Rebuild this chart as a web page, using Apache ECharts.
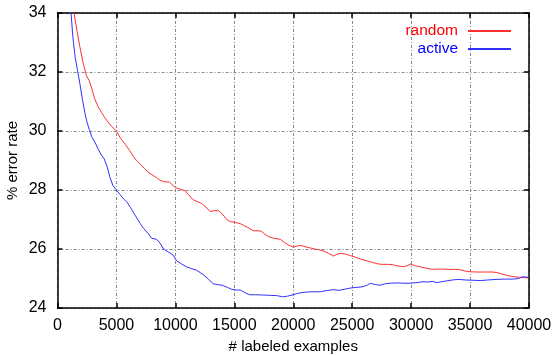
<!DOCTYPE html>
<html>
<head>
<meta charset="utf-8">
<script src="https://cdn.jsdelivr.net/npm/echarts@6/dist/echarts.min.js"></script>
<style>html,body{margin:0;padding:0;background:#fff}#c{width:552px;height:355px}</style>
</head>
<body>
<div id="c"></div>
<script>
const seriesNames = ["random", "active"];
const xTicks = [0, 5000, 10000, 15000, 20000, 25000, 30000, 35000, 40000];
const yTicks = [24, 26, 28, 30, 32, 34];
const randomX = [1400,1650,1900,2150,2450,2700,2900,3150,3450,3750,4000,4300,4600,5000,5350,5750,6100,6450,6700,7000,7400,7700,8000,8400,8700,9000,9500,9800,10000,10400,10800,11100,11500,11900,12200,12600,12950,13300,13650,14000,14350,14650,15100,15500,15800,16200,16600,17000,17300,17600,17900,18400,18900,19250,19600,20000,20300,20600,21000,21400,21800,22200,22600,23000,23400,23700,24000,24400,24800,25300,25700,26000,26400,26700,27100,27500,28000,28400,28800,29300,29600,29950,30300,30800,31300,31800,32500,33300,34000,34500,34900,35500,36400,36900,37300,37700,38200,38700,39200,39600,40000];
const randomY = [34.0,33.4,32.85,32.35,31.88,31.7,31.45,31.1,30.82,30.62,30.46,30.3,30.15,30.0,29.75,29.55,29.35,29.13,29.0,28.88,28.72,28.6,28.52,28.42,28.33,28.28,28.27,28.15,28.08,28.03,27.98,27.85,27.67,27.6,27.55,27.42,27.27,27.3,27.3,27.18,27.0,26.93,26.9,26.86,26.8,26.72,26.62,26.62,26.6,26.5,26.42,26.36,26.33,26.22,26.14,26.06,26.1,26.12,26.08,26.04,26.0,25.97,25.93,25.85,25.76,25.82,25.85,25.83,25.78,25.72,25.66,25.63,25.58,25.55,25.5,25.48,25.48,25.47,25.43,25.4,25.42,25.49,25.44,25.39,25.35,25.31,25.32,25.31,25.31,25.26,25.23,25.22,25.22,25.22,25.2,25.15,25.1,25.06,25.04,25.03,25.02];
const activeX = [1150,1300,1500,1700,1900,2100,2330,2500,2700,2900,3200,3460,3700,3970,4200,4460,4700,5000,5300,5600,5870,6200,6500,7000,7300,7700,8000,8400,8700,9000,9400,9800,10100,10500,10970,11400,11800,12100,12400,12800,13200,13600,14000,14400,14800,15200,15500,15900,16300,16800,17400,18000,18600,19100,19500,19900,20400,20900,21400,21900,22300,22800,23400,23900,24400,24900,25400,25900,26300,26550,26900,27350,27800,28230,28800,29400,29900,30500,31000,31400,31800,32200,32700,33040,33500,34000,34600,35300,35900,36500,37300,38000,38700,39100,39450,39700,40000];
const activeY = [34.0,33.2,32.5,32.05,31.6,31.1,30.6,30.3,30.05,29.81,29.6,29.38,29.2,29.05,28.8,28.42,28.15,28.0,27.85,27.7,27.6,27.4,27.2,26.87,26.7,26.52,26.36,26.33,26.2,26.0,25.9,25.8,25.6,25.5,25.39,25.33,25.28,25.2,25.12,24.98,24.82,24.79,24.77,24.7,24.63,24.61,24.61,24.52,24.45,24.45,24.44,24.43,24.42,24.38,24.4,24.44,24.5,24.53,24.55,24.55,24.55,24.59,24.62,24.6,24.64,24.68,24.7,24.72,24.78,24.84,24.8,24.77,24.82,24.84,24.85,24.84,24.84,24.86,24.89,24.88,24.9,24.86,24.9,24.92,24.95,24.97,24.95,24.94,24.93,24.95,24.97,24.98,24.98,25.0,25.06,25.05,25.04];

const FONT = '"Liberation Sans", Arial, sans-serif';
const pair = (xs, ys) => xs.map((x, i) => [x, ys[i]]);
const gridLine = { show: true, lineStyle: { color: '#888', width: 1, type: [3, 2, 1, 2] } };
const axisLine = { show: true, onZero: false, lineStyle: { color: '#000', width: 1.5 } };
const tick = { show: true, inside: true, length: 5, lineStyle: { color: '#000', width: 1.5 } };

const chart = echarts.init(document.getElementById('c'), null, { renderer: 'canvas' });
chart.setOption({
  animation: false,
  backgroundColor: '#fff',
  grid: { left: 57.5, right: 23, top: 13, bottom: 47, containLabel: false, outerBoundsMode: 'none' },
  legend: {
    orient: 'vertical', right: 35, top: 18, align: 'right',
    itemWidth: 43, itemHeight: 14, itemGap: 2,
    itemStyle: { opacity: 0 },
    data: seriesNames.map((n, i) => ({ name: n, textStyle: { color: i === 0 ? '#ff0000' : '#0000ff' } })),
    textStyle: { fontFamily: FONT, fontSize: 15.5, padding: [0, 5, 0, 0] }
  },
  xAxis: [{
    type: 'value', min: xTicks[0], max: xTicks[xTicks.length - 1], interval: 5000,
    name: '# labeled examples', nameLocation: 'middle', nameGap: 31, nameMoveOverlap: false,
    nameTextStyle: { fontFamily: FONT, fontSize: 15, color: '#000' },
    axisLine, axisTick: tick, splitLine: gridLine,
    axisLabel: { fontFamily: FONT, fontSize: 16, color: '#000', margin: 10, formatter: v => String(v) }
  }, {
    type: 'value', position: 'top', min: xTicks[0], max: xTicks[xTicks.length - 1], interval: 5000,
    axisLine, axisTick: tick, axisLabel: { show: false }, splitLine: { show: false }
  }],
  yAxis: [{
    type: 'value', min: yTicks[0], max: yTicks[yTicks.length - 1], interval: 2,
    name: '% error rate', nameLocation: 'middle', nameGap: 37, nameMoveOverlap: false,
    nameTextStyle: { fontFamily: FONT, fontSize: 15, color: '#000' },
    axisLine, axisTick: tick, splitLine: gridLine,
    axisLabel: { fontFamily: FONT, fontSize: 16, color: '#000', margin: 11, formatter: v => String(v) }
  }, {
    type: 'value', position: 'right', min: yTicks[0], max: yTicks[yTicks.length - 1], interval: 2,
    axisLine, axisTick: tick, axisLabel: { show: false }, splitLine: { show: false }
  }],
  series: [{
    name: seriesNames[0], type: 'line', data: pair(randomX, randomY), showSymbol: false, symbol: 'none',
    lineStyle: { color: '#ff3030', width: 1 }, itemStyle: { color: '#ff3030' }, clip: true
  }, {
    name: seriesNames[1], type: 'line', data: pair(activeX, activeY), showSymbol: false, symbol: 'none',
    lineStyle: { color: '#3030ff', width: 1 }, itemStyle: { color: '#3030ff' }, clip: true
  }]
});
</script>
</body>
</html>
